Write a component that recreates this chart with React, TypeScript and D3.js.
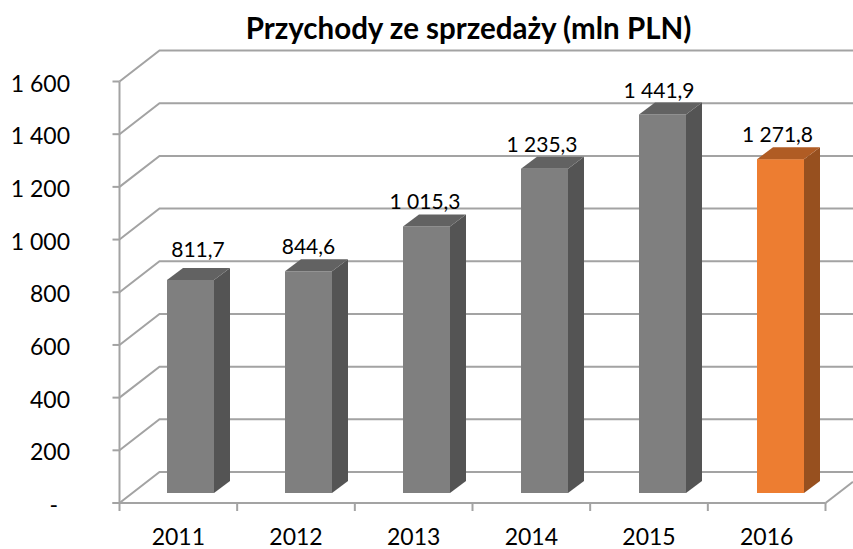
import React from 'react';
import * as d3 from 'd3';

const years = ['2011', '2012', '2013', '2014', '2015', '2016'];
const revenue = [811.7, 844.6, 1015.3, 1235.3, 1441.9, 1271.8];
const revenueLabels = ['811,7', '844,6', '1 015,3', '1 235,3', '1 441,9', '1 271,8'];
const yTicks = [0, 200, 400, 600, 800, 1000, 1200, 1400, 1600];
const yTickLabels = ['-', '200', '400', '600', '800', '1 000', '1 200', '1 400', '1 600'];
const highlightYear = '2016';

const width = 853;
const height = 549;
const font = 'Lato, "Open Sans", sans-serif';
const gridColor = '#a3a3a3';

// fake 3D: the back wall sits up and right of the front plane
const wall = { dx: 40, dy: -31 };
const depth = { dx: 16, dy: -12 };
// the data labels do not sit quite centred on the bars in the original
const labelShift = [7.5, 0, -1.5, -2.5, -3.5, -3];

const App = () => {
  const x = d3.scaleBand().domain(years).range([119.5, 825.5]);
  const y = d3.scaleLinear().domain([0, 1600]).range([503, 81.5]);
  // bars stand on the floor, a bit behind the front edge
  const barX = d3.scaleBand().domain(years).range([167, 875]);
  const barY = d3.scaleLinear().domain([0, 1600]).range([493, 73]);
  const barWidth = 47;

  const bars = years.map((year, i) => {
    const x0 = barX(year)!;
    const x1 = x0 + barWidth;
    const top = barY(revenue[i]);
    const base = barY(0);
    const on = year === highlightYear;
    return (
      <g key={year}>
        <rect x={x0} y={top} width={barWidth} height={base - top} fill={on ? '#ed7d31' : '#7f7f7f'} />
        <path
          d={`M${x1},${top}L${x1 + depth.dx},${top + depth.dy}L${x1 + depth.dx},${base + depth.dy}L${x1},${base}Z`}
          fill={on ? '#97501f' : '#545454'}
        />
        <path
          d={`M${x0},${top}L${x0 + depth.dx},${top + depth.dy}L${x1 + depth.dx},${top + depth.dy}L${x1},${top}Z`}
          fill={on ? '#b05c24' : '#626262'}
        />
        <text
          x={x0 + barWidth / 2 + labelShift[i]}
          y={top + depth.dy - (year === '2011' ? 10.5 : 5)}
          textAnchor="middle"
          fontSize={21}
          fill="#000"
        >
          {revenueLabels[i]}
        </text>
      </g>
    );
  });

  return (
    <svg
      width={width}
      height={height}
      viewBox={`0 0 ${width} ${height}`}
      style={{ position: 'absolute', left: 0, top: 0, background: '#fff' }}
      fontFamily={font}
    >
      <text x={468.5} y={39} textAnchor="middle" fontSize={29.5} fontWeight="bold" fill="#000">
        Przychody ze sprzedaży (mln PLN)
      </text>

      {/* walls */}
      <g fill="none" stroke={gridColor} strokeWidth={2}>
        {yTicks.map(t => (
          <path
            key={t}
            d={`M${x.range()[0]},${y(t)}L${x.range()[0] + wall.dx},${y(t) + wall.dy}L${width},${y(t) + wall.dy}`}
          />
        ))}
        <path d={`M${x.range()[1]},${y(0)}L${width},${y(0) + (wall.dy * (width - x.range()[1])) / wall.dx}`} />
      </g>

      {/* axes */}
      <g stroke={gridColor} strokeWidth={2} fill="none">
        <line x1={x.range()[0]} x2={x.range()[0]} y1={y(1600)} y2={y(0)} />
        <line x1={x.range()[0] - 7} x2={x.range()[1]} y1={y(0)} y2={y(0)} />
        {yTicks.map(t => (
          <line key={t} x1={x.range()[0] - 7} x2={x.range()[0]} y1={y(t)} y2={y(t)} />
        ))}
        {[...years.map(d => x(d)!), x.range()[1]].map(px => (
          <line key={px} x1={px} x2={px} y1={y(0)} y2={y(0) + 8} />
        ))}
      </g>

      {bars}

      <g fontSize={23} fill="#000">
        {yTicks.map((t, i) => (
          <text key={t} x={t === 0 ? 58 : 70} y={y(t) + 10} textAnchor="end">
            {yTickLabels[i]}
          </text>
        ))}
        {years.map(d => (
          <text key={d} x={x(d)! + x.bandwidth() / 2} y={545} textAnchor="middle">
            {d}
          </text>
        ))}
      </g>
    </svg>
  );
};

export default App;
